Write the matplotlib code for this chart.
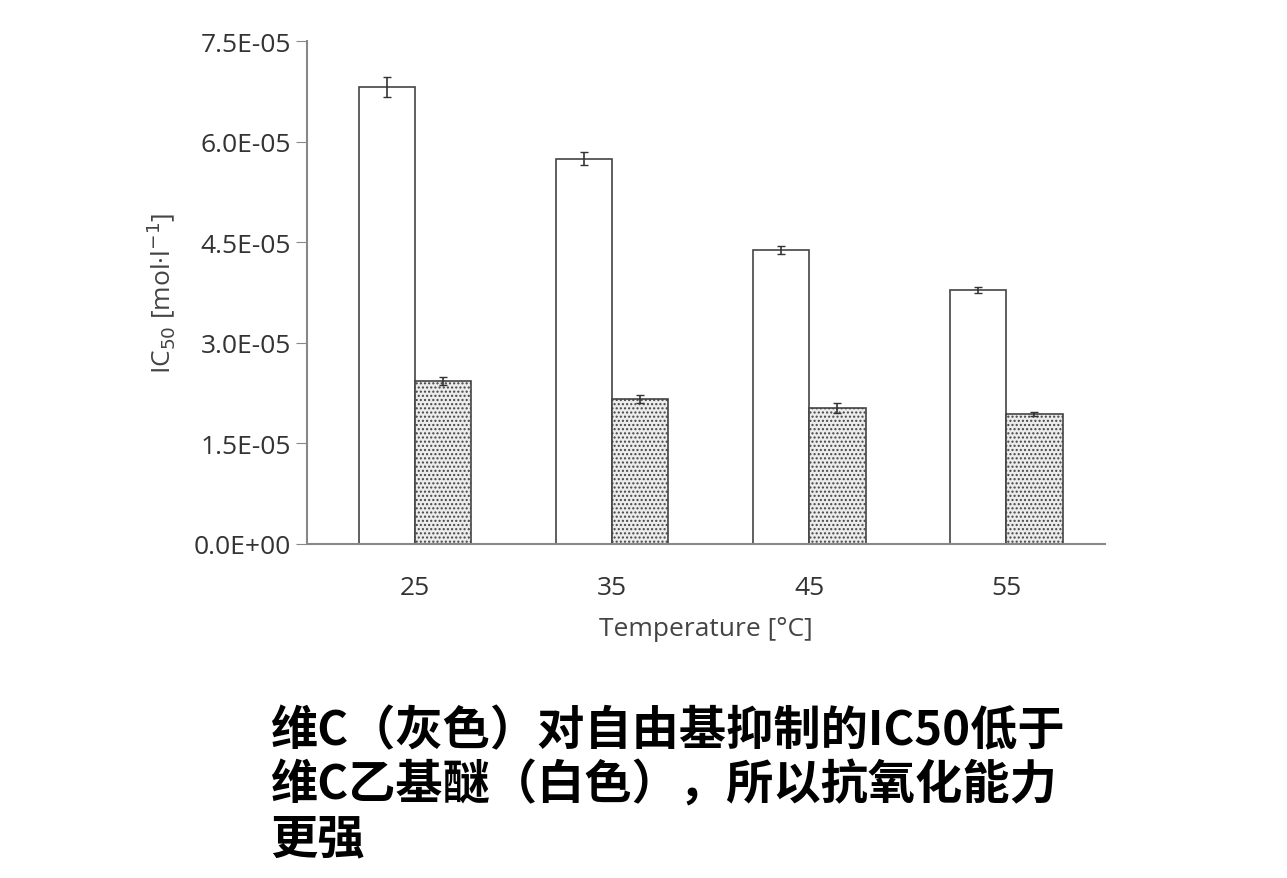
import numpy as np
import matplotlib.pyplot as plt

plt.rcParams['font.family'] = ['Open Sans', 'DejaVu Sans']
plt.rcParams['hatch.color'] = '#b0b0b0'

temps = ['25', '35', '45', '55']
ether = [6.82e-5, 5.75e-5, 4.38e-5, 3.79e-5]
ether_err = [0.15e-5, 0.1e-5, 0.06e-5, 0.05e-5]
vitc = [2.43e-5, 2.16e-5, 2.03e-5, 1.94e-5]
vitc_err = [0.06e-5, 0.06e-5, 0.07e-5, 0.03e-5]

fig = plt.figure(figsize=(12.87, 8.79), dpi=100)
ax = fig.add_axes([0.2385, 0.38, 0.62, 0.572])

x = np.arange(len(temps))
w = 0.285
ax.bar(x - w / 2, ether, w, yerr=ether_err, color='white', edgecolor='#444444',
       linewidth=1.2, error_kw=dict(ecolor='#333333', capsize=3, elinewidth=1.2))
ax.bar(x + w / 2, vitc, w, yerr=vitc_err, color='#ececec', edgecolor='#444444',
       hatch='....', linewidth=1.2, error_kw=dict(ecolor='#333333', capsize=3, elinewidth=1.2))

ax.set_xlim(-0.55, 3.5)
ax.set_ylim(0, 7.5e-5)
yt = np.arange(0, 7.6e-5, 1.5e-5)
ax.set_yticks(yt)
ax.set_yticklabels(['%.1E' % v for v in yt], fontsize=19, color='#333333')
ax.set_xticks(x)
ax.set_xticklabels(temps, fontsize=19, color='#333333')
ax.tick_params(axis='y', length=8, color='#888888')
ax.tick_params(axis='x', length=0, pad=22)
for s in ['top', 'right']:
    ax.spines[s].set_visible(False)
for s in ['left', 'bottom']:
    ax.spines[s].set_color('#888888')
    ax.spines[s].set_linewidth(1.5)
ax.set_xlabel('Temperature [°C]', fontsize=19, color='#444444', labelpad=12)
ax.set_ylabel(r'IC$_{50}$ [mol·l$^{-1}$]', fontsize=19, color='#444444', labelpad=12)

fig.text(0.21, 0.195, '维C（灰色）对自由基抑制的IC50低于\n维C乙基醚（白色），所以抗氧化能力\n更强',
         fontsize=34, fontweight='bold', family=['Noto Sans CJK SC', 'DejaVu Sans'],
         linespacing=1.15, va='top')

fig.savefig('out.png', dpi=100)
